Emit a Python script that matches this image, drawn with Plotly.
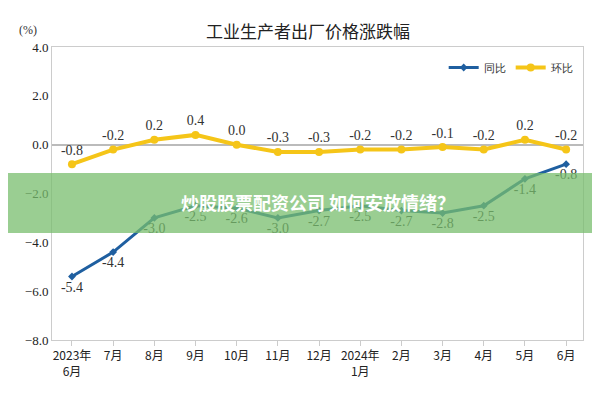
import plotly.graph_objects as go

months = ["2023年<br>6月", "7月", "8月", "9月", "10月", "11月", "12月", "2024年<br>1月",
          "2月", "3月", "4月", "5月", "6月"]
yoy = [-5.4, -4.4, -3.0, -2.5, -2.6, -3.0, -2.7, -2.5, -2.7, -2.8, -2.5, -1.4, -0.8]
mom = [-0.8, -0.2, 0.2, 0.4, 0.0, -0.3, -0.3, -0.2, -0.2, -0.1, -0.2, 0.2, -0.2]

serif = "Liberation Serif, serif"
fig = go.Figure()
fig.add_trace(go.Scatter(
    x=months, y=yoy, name="同比", mode="lines+markers+text",
    line=dict(color="#1f5fa0", width=3), marker=dict(size=6, symbol="diamond"),
    text=[f"{v:.1f}" for v in yoy], textposition="bottom center",
    textfont=dict(family=serif, size=14, color="#333"),
))
fig.add_trace(go.Scatter(
    x=months, y=mom, name="环比", mode="lines+markers+text",
    line=dict(color="#f5c518", width=4), marker=dict(size=8),
    text=[f"{v:.1f}" for v in mom], textposition="top center",
    textfont=dict(family=serif, size=14, color="#333"),
))

fig.update_layout(
    width=600, height=400, plot_bgcolor="white", paper_bgcolor="white",
    margin=dict(l=44, r=25, t=39, b=68, autoexpand=False),
    title=dict(text="工业生产者出厂价格涨跌幅", x=0.5, y=0.955, xanchor="center",
               font=dict(size=17, color="#222", family="Noto Sans CJK SC")),
    legend=dict(orientation="h", x=0.99, y=0.93, xanchor="right", yanchor="middle",
                font=dict(size=11, color="#333"), bgcolor="rgba(0,0,0,0)"),
    xaxis=dict(range=[-0.485, 12.41], showline=True, linecolor="#ccc", mirror=True,
               ticks="outside", tickcolor="#ccc",
               tickfont=dict(size=12, color="#222", family="Noto Sans CJK SC")),
    yaxis=dict(range=[-8, 4], dtick=2, tickformat=".1f", showgrid=False, automargin=False,
               showline=True, linecolor="#ccc", mirror=True, zeroline=True,
               zerolinecolor="#bbb", tickfont=dict(size=13, family=serif, color="#222")),
)
fig.add_annotation(text="(%)", xref="paper", yref="paper", x=-0.065, y=1.09,
                   showarrow=False, font=dict(size=12, family=serif, color="#333"))
# green banner overlay
fig.add_shape(type="rect", xref="paper", yref="paper", x0=-0.1, x1=1.1,
              y0=0.365, y1=0.57, fillcolor="rgba(120,190,110,0.75)", line_width=0, layer="above")
fig.add_annotation(text="<b>炒股股票配资公司 如何安放情绪？</b>", xref="paper", yref="paper",
                   x=0.5, y=0.47, showarrow=False,
                   font=dict(size=18, color="white", family="Noto Sans CJK SC"))
fig.write_html("out.html")
